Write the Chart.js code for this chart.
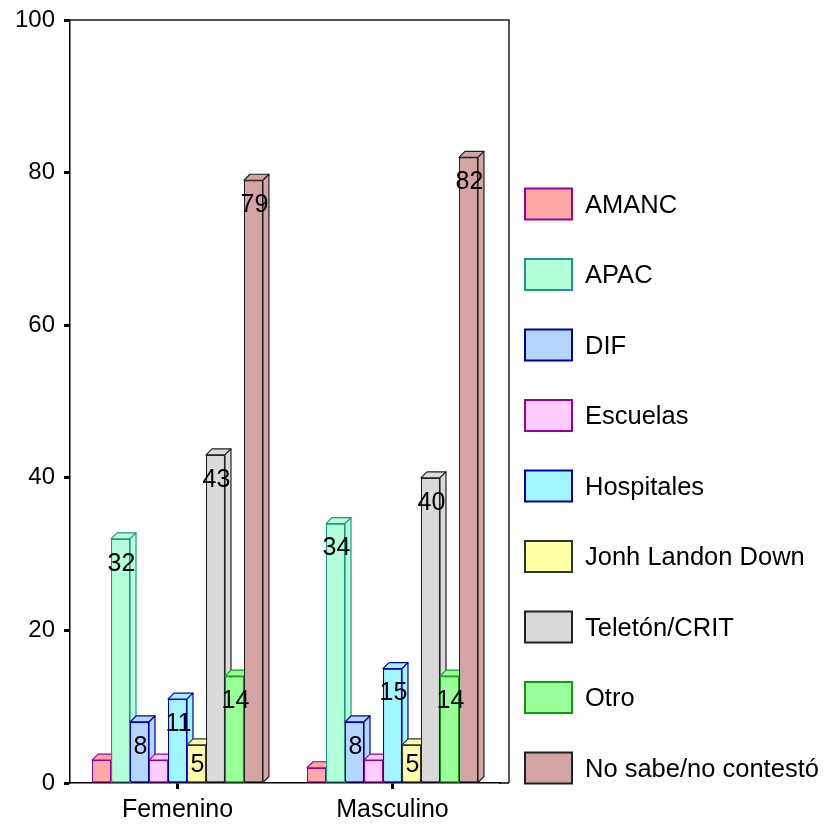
<!DOCTYPE html>
<html lang="es">
<head>
<meta charset="utf-8">
<script src="https://cdn.jsdelivr.net/npm/chart.js@4.4.1/dist/chart.umd.min.js"></script>
<style>
  html, body { margin: 0; background: #fff; }
</style>
</head>
<body>
<canvas id="graficaInstituciones" width="830" height="825"></canvas>
<script>
// --- DATOS ---
const categorias = ['Femenino', 'Masculino'];
const ticksY = [0, 20, 40, 60, 80, 100];

const amanc      = [3, 2];
const apac       = [32, 34];
const dif        = [8, 8];
const escuelas   = [3, 3];
const hospitales = [11, 15];
const jonhLandon = [5, 5];
const teleton    = [43, 40];
const otro       = [14, 14];
const noSabe     = [79, 82];

// --- ESTILOS ---
const fuente = '"Liberation Sans", Arial, sans-serif';
const series = [
    { label: 'AMANC', data: amanc, fondo: '#ffa8a8', borde: '#990099' },
    { label: 'APAC', data: apac, fondo: '#b3ffd9', borde: '#1f968c' },
    { label: 'DIF', data: dif, fondo: '#b3d6ff', borde: '#000099' },
    { label: 'Escuelas', data: escuelas, fondo: '#ffccff', borde: '#990099' },
    { label: 'Hospitales', data: hospitales, fondo: '#a0f5ff', borde: '#0000aa' },
    { label: 'Jonh Landon Down', data: jonhLandon, fondo: '#ffffa8', borde: '#333333' },
    { label: 'Teletón/CRIT', data: teleton, fondo: '#dadada', borde: '#222222' },
    { label: 'Otro', data: otro, fondo: '#99ff99', borde: '#119911' },
    { label: 'No sabe/no contestó', data: noSabe, fondo: '#d4a5a5', borde: '#222222' }
];

const PROF = 6;       // profundidad del efecto 3D
const EXTRA_DER = 9;  // el marco se extiende un poco mas alla del eje de categorias

// Marco superior, derecho y prolongacion del eje inferior
const marcoPlugin = {
    id: 'marco',
    beforeDatasetsDraw(chart) {
        const { ctx, chartArea: a } = chart;
        const der = a.right + EXTRA_DER;
        ctx.save();
        ctx.strokeStyle = '#222';
        ctx.lineWidth = 1.5;
        ctx.beginPath();
        ctx.moveTo(a.left, a.top);
        ctx.lineTo(der, a.top);
        ctx.lineTo(der, a.bottom);
        ctx.stroke();
        ctx.strokeStyle = '#000';
        ctx.beginPath();
        ctx.moveTo(a.right - 1, a.bottom);
        ctx.lineTo(der, a.bottom);
        ctx.stroke();
        ctx.restore();
    }
};

// Caras superior y lateral de cada barra, en orden de izquierda a derecha
const barras3DPlugin = {
    id: 'barras3D',
    afterDatasetsDraw(chart) {
        const ctx = chart.ctx;
        ctx.save();
        const nCat = chart.data.labels.length;
        for (let j = 0; j < nCat; j++) {
            chart.data.datasets.forEach((ds, i) => {
                const bar = chart.getDatasetMeta(i).data[j];
                if (!bar) return;
                bar.draw(ctx);
                const l = bar.x - bar.width / 2;
                const r = bar.x + bar.width / 2;
                const t = bar.y;
                const b = bar.base;
                ctx.fillStyle = ds.backgroundColor;
                ctx.strokeStyle = ds.borderColor;
                ctx.lineWidth = 1.2;
                ctx.lineJoin = 'round';
                // cara superior
                ctx.beginPath();
                ctx.moveTo(l, t);
                ctx.lineTo(l + PROF, t - PROF);
                ctx.lineTo(r + PROF, t - PROF);
                ctx.lineTo(r, t);
                ctx.closePath();
                ctx.fill();
                ctx.stroke();
                // cara lateral
                ctx.beginPath();
                ctx.moveTo(r, t);
                ctx.lineTo(r + PROF, t - PROF);
                ctx.lineTo(r + PROF, b - PROF);
                ctx.lineTo(r, b);
                ctx.closePath();
                ctx.fill();
                ctx.stroke();
            });
        }
        ctx.restore();
    }
};

// Etiquetas de valor dentro de las barras
const etiquetasPlugin = {
    id: 'etiquetas',
    afterDatasetsDraw(chart) {
        const ctx = chart.ctx;
        ctx.save();
        ctx.font = '25px ' + fuente;
        ctx.fillStyle = '#000';
        ctx.textAlign = 'center';
        ctx.textBaseline = 'middle';
        chart.data.datasets.forEach((ds, i) => {
            chart.getDatasetMeta(i).data.forEach((bar, j) => {
                const alto = bar.base - bar.y;
                if (alto < 30) return;
                const y = Math.min(bar.y + 25, (bar.y + bar.base) / 2 + 1);
                ctx.fillText(String(ds.data[j]), bar.x + 1, y);
            });
        });
        ctx.restore();
    }
};

// Leyenda a la derecha
const leyendaPlugin = {
    id: 'leyenda',
    afterDraw(chart) {
        const ctx = chart.ctx;
        ctx.save();
        ctx.font = '25.5px ' + fuente;
        ctx.textBaseline = 'middle';
        chart.data.datasets.forEach((ds, i) => {
            const y = 188.5 + i * 70.5;
            ctx.fillStyle = ds.backgroundColor;
            ctx.fillRect(525, y, 47, 31);
            ctx.strokeStyle = ds.borderColor;
            ctx.lineWidth = 2;
            ctx.strokeRect(525, y, 47, 31);
            ctx.fillStyle = '#000';
            ctx.fillText(ds.label, 585, y + 17);
        });
        ctx.restore();
    }
};

const ctx = document.getElementById('graficaInstituciones');

new Chart(ctx, {
    type: 'bar',
    data: {
        labels: categorias,
        datasets: series.map(s => ({
            label: s.label,
            data: s.data,
            backgroundColor: s.fondo,
            borderColor: s.borde,
            borderWidth: 1.2,
            borderSkipped: false,
            categoryPercentage: 0.795,
            barPercentage: 1
        }))
    },
    options: {
        responsive: false,
        animation: false,
        layout: { padding: { top: 20, right: 330, left: 1, bottom: 0 } },
        plugins: {
            legend: { display: false },
            tooltip: { enabled: false }
        },
        scales: {
            x: {
                afterFit(scale) {
                    scale.height = 42;
                    scale.paddingLeft = 0;
                    scale.paddingRight = 0;
                },
                grid: {
                    offset: false,
                    drawOnChartArea: false,
                    tickLength: 6,
                    tickWidth: 3,
                    tickColor: '#000'
                },
                border: { display: true, color: '#000', width: 1.5 },
                ticks: { color: '#000', font: { family: fuente, size: 25 }, padding: 6 }
            },
            y: {
                min: 0,
                max: 100,
                afterFit(scale) {
                    scale.width = 69;
                    scale.paddingTop = 0;
                    scale.paddingBottom = 0;
                },
                afterBuildTicks(scale) { scale.ticks = ticksY.map(v => ({ value: v })); },
                grid: {
                    drawOnChartArea: false,
                    tickLength: 6,
                    tickWidth: 3,
                    tickColor: '#000'
                },
                border: { display: true, color: '#000', width: 1.5 },
                ticks: { color: '#000', font: { family: fuente, size: 24 }, padding: 9 }
            }
        }
    },
    plugins: [marcoPlugin, barras3DPlugin, etiquetasPlugin, leyendaPlugin]
});
</script>
</body>
</html>
